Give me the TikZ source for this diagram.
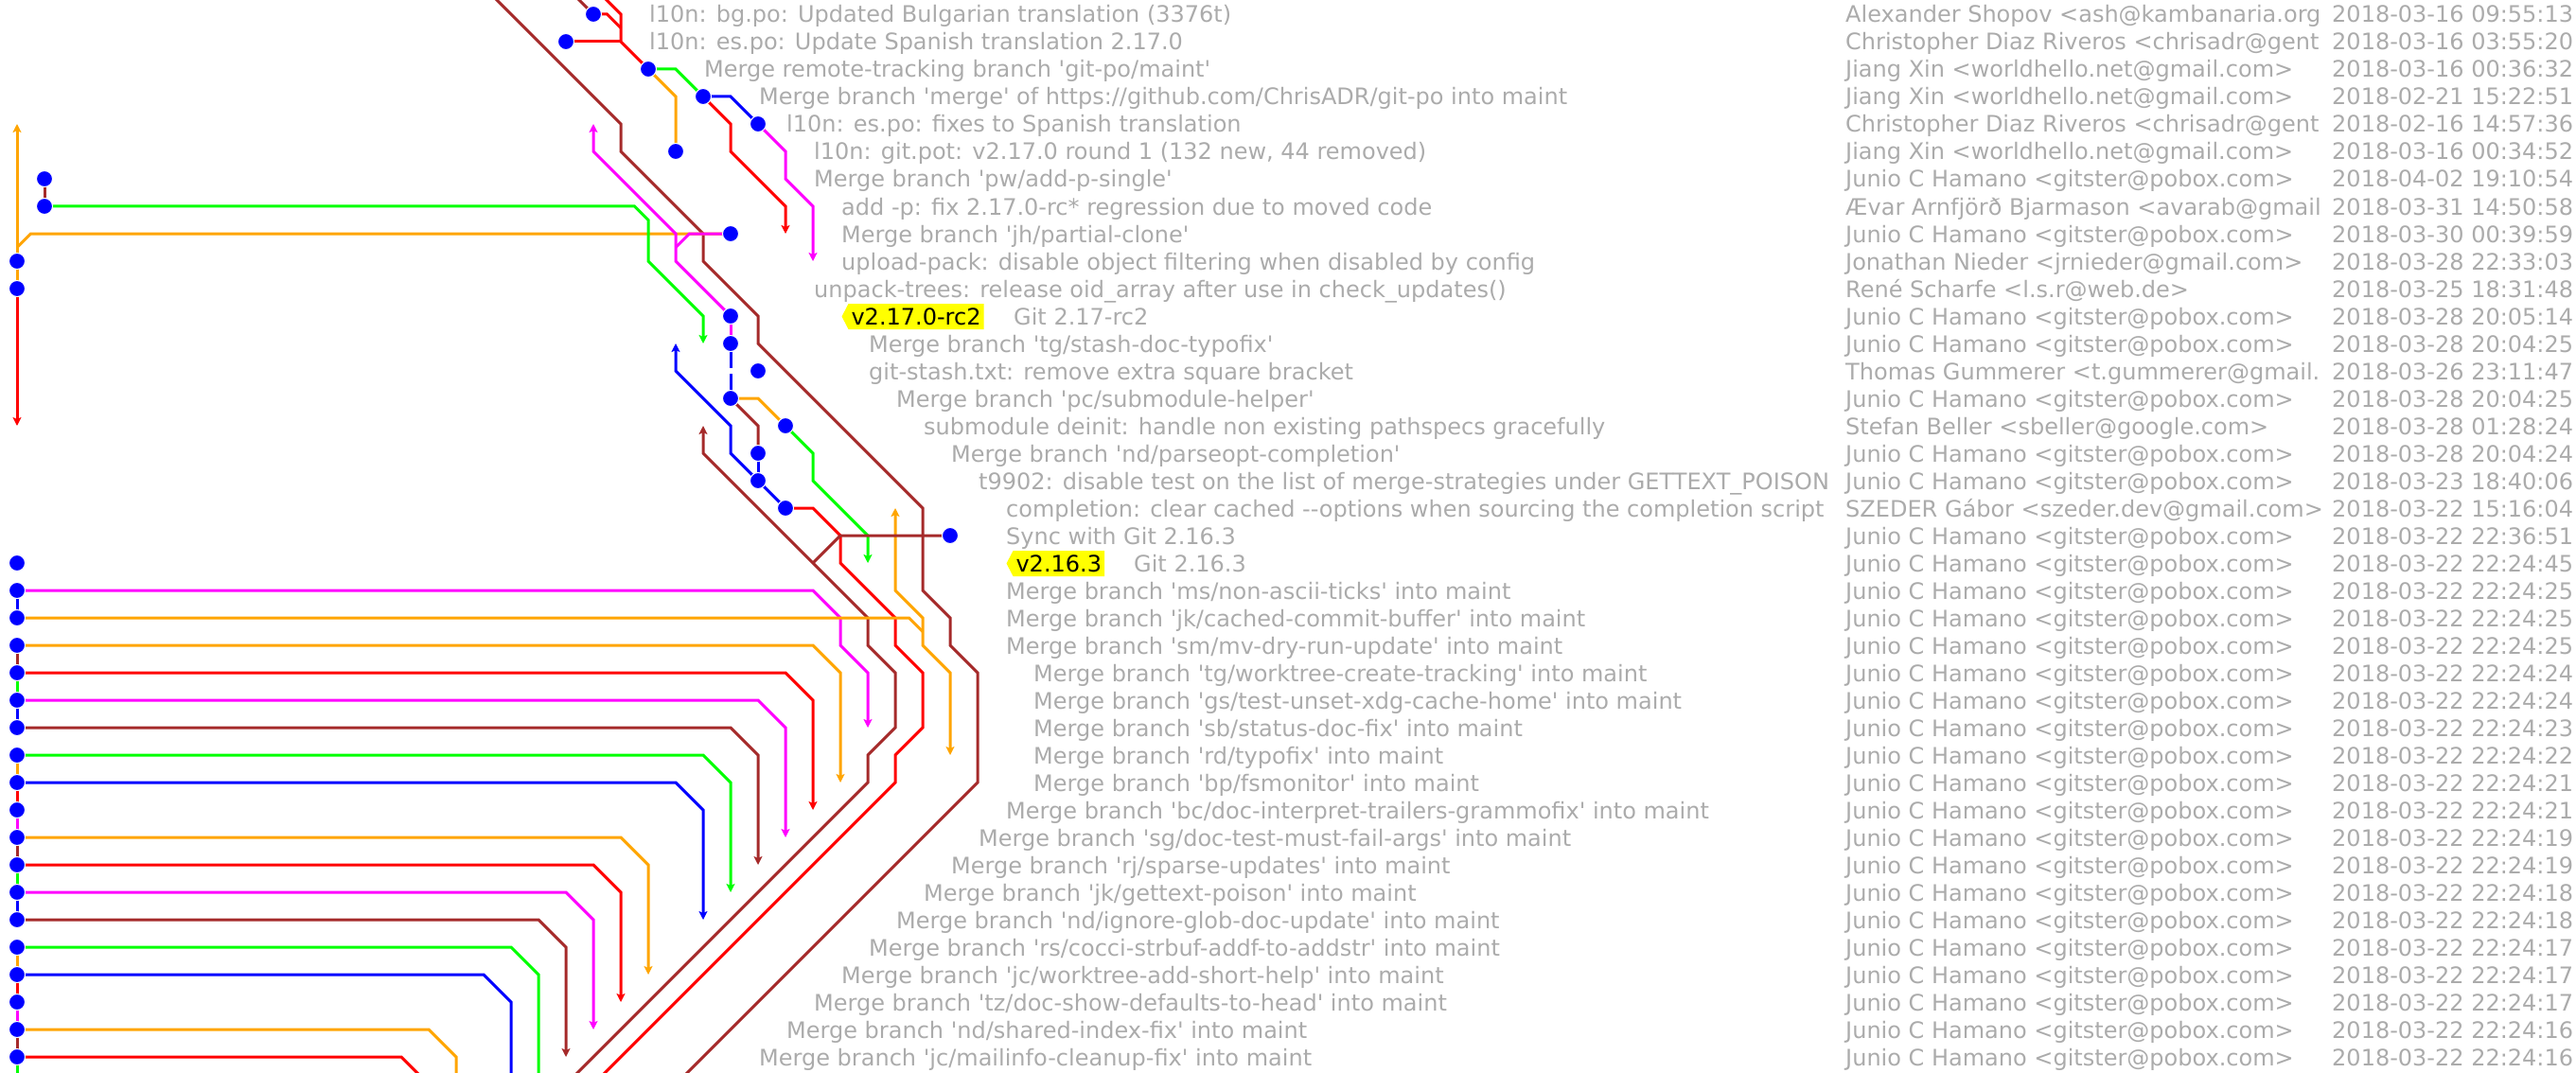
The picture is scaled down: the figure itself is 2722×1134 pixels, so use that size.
\documentclass[tikz,border=0pt]{standalone}
\usepackage{fontspec}
\newfontfamily\gitfont{DejaVu Sans}[Ligatures=TeXOff]
\usetikzlibrary{arrows.meta,shapes.symbols}
\pgfdeclarelayer{bg}
\pgfsetlayers{bg,main}
\definecolor{gbrown}{HTML}{A52A2A}
\definecolor{gorange}{HTML}{FFA500}
\definecolor{ggreen}{HTML}{00FF00}
\definecolor{gred}{HTML}{FF0000}
\definecolor{gblue}{HTML}{0000FF}
\definecolor{gmagenta}{HTML}{FF00FF}
\definecolor{gtext}{HTML}{ABABAB}
\definecolor{gtag}{HTML}{FFFF00}
\tikzset{
  gl/.style={line width=3pt},
  arr/.style={-{Stealth[length=9pt,width=9pt,inset=2pt]}},
  arrb/.style={{Stealth[length=9pt,width=9pt,inset=2pt]}-{Stealth[length=9pt,width=9pt,inset=2pt]}},
  commit/.style={circle, fill=gblue, draw=white, line width=1pt, minimum size=17pt, inner sep=0pt, outer sep=0pt},
  msg/.style={anchor=base west, inner sep=0pt, text=gtext, font=\gitfont\fontsize{24pt}{29pt}\selectfont},
  tagbox/.style={signal, signal to=west, signal pointer angle=125, fill=gtag, text=black, anchor=west,
     inner xsep=3pt, inner ysep=2.5pt, text height=19.5pt, text depth=2.5pt, outer sep=0pt,
     font=\gitfont\fontsize{24pt}{29pt}\selectfont}
}
\newcommand\gmsg[3]{\node[msg] (m#1) at (#2,{29*#1-5}) {#3};}
\newcommand\gauth[2]{\node[msg] (u#1) at (1950,{29*#1-5}) {#2};}
\newcommand\gdate[2]{\node[msg] (d#1) at (2464,{29*#1-5}) {#2};}
\begin{document}
\begin{tikzpicture}
\useasboundingbox (0,0) rectangle (2722pt,-1134pt);
\clip (0,0) rectangle (2722pt,-1134pt);
\begin{scope}[shift={(18pt,14pt)}, x=29pt, y=-29pt]
% commits
\node[commit] (c1) at (21,1) {};
\node[commit] (c2) at (20,2) {};
\node[commit] (c3) at (23,3) {};
\node[commit] (c4) at (25,4) {};
\node[commit] (c5) at (27,5) {};
\node[commit] (c6) at (24,6) {};
\node[commit] (c7) at (1,7) {};
\node[commit] (c8) at (1,8) {};
\node[commit] (c9) at (26,9) {};
\node[commit] (c10) at (0,10) {};
\node[commit] (c11) at (0,11) {};
\node[commit] (c12) at (26,12) {};
\node[commit] (c13) at (26,13) {};
\node[commit] (c14) at (27,14) {};
\node[commit] (c15) at (26,15) {};
\node[commit] (c16) at (28,16) {};
\node[commit] (c17) at (27,17) {};
\node[commit] (c18) at (27,18) {};
\node[commit] (c19) at (28,19) {};
\node[commit] (c20) at (34,20) {};
\foreach \r in {21,...,39} {\node[commit] (c\r) at (0,\r) {};}
% free ends
\coordinate (e1) at (17,0);
\coordinate (e2) at (23,41);
\coordinate (e3) at (20,0);
\coordinate (e4) at (21,0);
\coordinate (e5) at (20,41);
\coordinate (e6) at (19,41);
\coordinate (e7) at (19,41);
\coordinate (e8) at (18,41);
\coordinate (e9) at (16,41);
\coordinate (e10) at (15,41);
\coordinate (e11) at (0,41);
\coordinate (j1) at (22,1.5);
\coordinate (j2) at (22,2);
\coordinate (j3) at (0,9.5);
\coordinate (j4) at (24,9.5);
\coordinate (j5) at (29,21);
\coordinate (j6) at (33,23.5);
\coordinate (g1) at (26,13.9);
\coordinate (g2) at (26,14.1);
\coordinate (a1) at (28,9);
\coordinate (a2) at (29,10);
\coordinate (a3) at (21,5);
\coordinate (a4) at (0,5);
\coordinate (a5) at (0,16);
\coordinate (a6) at (25,13);
\coordinate (a7) at (24,13);
\coordinate (a8) at (31,21);
\coordinate (a9) at (25,16);
\coordinate (a10) at (32,19);
\coordinate (a11) at (34,28);
\coordinate (a12) at (31,27);
\coordinate (a13) at (30,29);
\coordinate (a14) at (29,30);
\coordinate (a15) at (28,31);
\coordinate (a16) at (27,32);
\coordinate (a17) at (26,33);
\coordinate (a18) at (25,34);
\coordinate (a19) at (23,36);
\coordinate (a20) at (22,37);
\coordinate (a21) at (21,38);
\coordinate (a22) at (20,39);
\begin{pgfonlayer}{bg}
% main brown
\draw[gl,gbrown] (e1) -- (22,5) -- (22,6) -- (25,9) -- (25,10) -- (27,12) -- (27,13) -- (33,19) -- (33,22) -- (34,23) -- (34,24) -- (35,25) -- (35,29) -- (34,30) -- (e2);
\draw[gl,gbrown] (e3) -- (c1);
\draw[gl,gred] (e4) -- (22,1) -- (22,2) -- (c3);
\draw[gl,gred] (c1) -- (21.5,1) -- (j1);
\draw[gl,gred] (c2) -- (j2);
\draw[gl,ggreen] (c3) -- (24,3) -- (c4);
\draw[gl,gorange] (c3) -- (24,4) -- (c6);
\draw[gl,gblue] (c4) -- (26,4) -- (c5);
\draw[gl,gred,arr] (c4) -- (26,5) -- (26,6) -- (28,8) -- (a1);
\draw[gl,gmagenta,arr] (c5) -- (28,6) -- (28,7) -- (29,8) -- (a2);
\draw[gl,gorange] (c9) -- (0.5,9) -- (j3);
\draw[gl,ggreen,arr] (c8) -- (22.5,8) -- (23,8.5) -- (23,10) -- (25,12) -- (a6);
\draw[gl,gmagenta,arr] (c12) -- (24,10) -- (24,9) -- (21,6) -- (a3);
\draw[gl,gmagenta] (c9) -- (24.5,9) -- (j4);
\draw[gl,gorange,arr] (c11) -- (a4);
\draw[gl,gred,arr] (c11) -- (a5);
\draw[gl,gbrown] (c7) -- (c8);
\draw[gl,gmagenta] (c12) -- (c13);
\draw[gl,gblue] (c13) -- (g1);
\draw[gl,gblue] (g2) -- (c15);
\draw[gl,gblue,arr] (c18) -- (26,17) -- (26,16) -- (24,14) -- (a7);
\draw[gl,gblue] (c17) -- (c18);
\draw[gl,gblue] (c18) -- (c19);
\draw[gl,gorange] (c15) -- (27,15) -- (c16);
\draw[gl,gbrown] (c15) -- (27,16) -- (c17);
\draw[gl,ggreen,arr] (c16) -- (29,17) -- (29,18) -- (31,20) -- (a8);
\draw[gl,gred] (c19) -- (29,19) -- (30,20) -- (30,21) -- (32,23) -- (32,24) -- (33,25) -- (33,27) -- (32,28) -- (32,29) -- (e5);
\draw[gl,gbrown,arr] (e6) -- (31,29) -- (31,28) -- (32,27) -- (32,25) -- (31,24) -- (31,23) -- (25,17) -- (a9);
\draw[gl,gorange,arrb] (a10) -- (32,22) -- (33,23) -- (33,24) -- (34,25) -- (a11);
\draw[gl,gbrown] (c20) -- (30,20) -- (j5);
\draw[gl,gmagenta,arr] (c22) -- (29,22) -- (30,23) -- (30,24) -- (31,25) -- (a12);
\draw[gl,gorange] (c23) -- (32.5,23) -- (j6);
\draw[gl,gorange,arr] (c24) -- (29,24) -- (30,25) -- (a13);
\draw[gl,gred,arr] (c25) -- (28,25) -- (29,26) -- (a14);
\draw[gl,gmagenta,arr] (c26) -- (27,26) -- (28,27) -- (a15);
\draw[gl,gbrown,arr] (c27) -- (26,27) -- (27,28) -- (a16);
\draw[gl,ggreen,arr] (c28) -- (25,28) -- (26,29) -- (a17);
\draw[gl,gblue,arr] (c29) -- (24,29) -- (25,30) -- (a18);
\draw[gl,gorange,arr] (c31) -- (22,31) -- (23,32) -- (a19);
\draw[gl,gred,arr] (c32) -- (21,32) -- (22,33) -- (a20);
\draw[gl,gmagenta,arr] (c33) -- (20,33) -- (21,34) -- (a21);
\draw[gl,gbrown,arr] (c34) -- (19,34) -- (20,35) -- (a22);
\draw[gl,ggreen] (c35) -- (18,35) -- (19,36) -- (e7);
\draw[gl,gblue] (c36) -- (17,36) -- (18,37) -- (e8);
\draw[gl,gorange] (c38) -- (15,38) -- (16,39) -- (e9);
\draw[gl,gred] (c39) -- (14,39) -- (15,40) -- (e10);
% lane 0 links
\draw[gl,gblue] (c22) -- (c23);
\draw[gl,gbrown] (c24) -- (c25);
\draw[gl,ggreen] (c25) -- (c26);
\draw[gl,gblue] (c26) -- (c27);
\draw[gl,gorange] (c28) -- (c29);
\draw[gl,gred] (c29) -- (c30);
\draw[gl,gmagenta] (c30) -- (c31);
\draw[gl,gbrown] (c31) -- (c32);
\draw[gl,ggreen] (c32) -- (c33);
\draw[gl,gblue] (c33) -- (c34);
\draw[gl,gorange] (c35) -- (c36);
\draw[gl,gred] (c36) -- (c37);
\draw[gl,gmagenta] (c37) -- (c38);
\draw[gl,gbrown] (c38) -- (c39);
\draw[gl,ggreen] (c39) -- (e11);
\end{pgfonlayer}
\end{scope}
\begin{scope}[x=1pt,y=-1pt]
\node[tagbox] (tag1) at (889.5,334.5) {v2.17.0-rc2};
\node[tagbox] (tag2) at (1063.5,595.5) {v2.16.3};
\gmsg{1}{686}{l10n: bg.po: Updated Bulgarian translation (3376t)}
\gmsg{2}{686}{l10n: es.po: Update Spanish translation 2.17.0}
\gmsg{3}{744}{Merge remote-tracking branch 'git-po/maint'}
\gmsg{4}{802}{Merge branch 'merge' of https://github.com/ChrisADR/git-po into maint}
\gmsg{5}{831}{l10n: es.po: fixes to Spanish translation}
\gmsg{6}{860}{l10n: git.pot: v2.17.0 round 1 (132 new, 44 removed)}
\gmsg{7}{860}{Merge branch 'pw/add-p-single'}
\gmsg{8}{889}{add -p: fix 2.17.0-rc* regression due to moved code}
\gmsg{9}{889}{Merge branch 'jh/partial-clone'}
\gmsg{10}{889}{upload-pack: disable object filtering when disabled by config}
\gmsg{11}{860}{unpack-trees: release oid\_array after use in check\_updates()}
\gmsg{12}{1071}{Git 2.17-rc2}
\gmsg{13}{918}{Merge branch 'tg/stash-doc-typofix'}
\gmsg{14}{918}{git-stash.txt: remove extra square bracket}
\gmsg{15}{947}{Merge branch 'pc/submodule-helper'}
\gmsg{16}{976}{submodule deinit: handle non existing pathspecs gracefully}
\gmsg{17}{1005}{Merge branch 'nd/parseopt-completion'}
\gmsg{18}{1034}{t9902: disable test on the list of merge-strategies under GETTEXT\_POISON}
\gmsg{19}{1063}{completion: clear cached --options when sourcing the completion script}
\gmsg{20}{1063}{Sync with Git 2.16.3}
\gmsg{21}{1198}{Git 2.16.3}
\gmsg{22}{1063}{Merge branch 'ms/non-ascii-ticks' into maint}
\gmsg{23}{1063}{Merge branch 'jk/cached-commit-buffer' into maint}
\gmsg{24}{1063}{Merge branch 'sm/mv-dry-run-update' into maint}
\gmsg{25}{1092}{Merge branch 'tg/worktree-create-tracking' into maint}
\gmsg{26}{1092}{Merge branch 'gs/test-unset-xdg-cache-home' into maint}
\gmsg{27}{1092}{Merge branch 'sb/status-doc-fix' into maint}
\gmsg{28}{1092}{Merge branch 'rd/typofix' into maint}
\gmsg{29}{1092}{Merge branch 'bp/fsmonitor' into maint}
\gmsg{30}{1063}{Merge branch 'bc/doc-interpret-trailers-grammofix' into maint}
\gmsg{31}{1034}{Merge branch 'sg/doc-test-must-fail-args' into maint}
\gmsg{32}{1005}{Merge branch 'rj/sparse-updates' into maint}
\gmsg{33}{976}{Merge branch 'jk/gettext-poison' into maint}
\gmsg{34}{947}{Merge branch 'nd/ignore-glob-doc-update' into maint}
\gmsg{35}{918}{Merge branch 'rs/cocci-strbuf-addf-to-addstr' into maint}
\gmsg{36}{889}{Merge branch 'jc/worktree-add-short-help' into maint}
\gmsg{37}{860}{Merge branch 'tz/doc-show-defaults-to-head' into maint}
\gmsg{38}{831}{Merge branch 'nd/shared-index-fix' into maint}
\gmsg{39}{802}{Merge branch 'jc/mailinfo-cleanup-fix' into maint}
\begin{scope}
\clip (1940,0) rectangle (2457,1134);
\gauth{1}{Alexander Shopov <ash@kambanaria.org}
\gauth{2}{Christopher Diaz Riveros <chrisadr@gent}
\gauth{3}{Jiang Xin <worldhello.net@gmail.com>}
\gauth{4}{Jiang Xin <worldhello.net@gmail.com>}
\gauth{5}{Christopher Diaz Riveros <chrisadr@gent}
\gauth{6}{Jiang Xin <worldhello.net@gmail.com>}
\gauth{7}{Junio C Hamano <gitster@pobox.com>}
\gauth{8}{Ævar Arnfjörð Bjarmason <avarab@gmail}
\gauth{9}{Junio C Hamano <gitster@pobox.com>}
\gauth{10}{Jonathan Nieder <jrnieder@gmail.com>}
\gauth{11}{René Scharfe <l.s.r@web.de>}
\gauth{12}{Junio C Hamano <gitster@pobox.com>}
\gauth{13}{Junio C Hamano <gitster@pobox.com>}
\gauth{14}{Thomas Gummerer <t.gummerer@gmail.}
\gauth{15}{Junio C Hamano <gitster@pobox.com>}
\gauth{16}{Stefan Beller <sbeller@google.com>}
\gauth{17}{Junio C Hamano <gitster@pobox.com>}
\gauth{18}{Junio C Hamano <gitster@pobox.com>}
\gauth{19}{SZEDER Gábor <szeder.dev@gmail.com>}
\foreach \r in {20,...,39} {\gauth{\r}{Junio C Hamano <gitster@pobox.com>}}
\end{scope}
\gdate{1}{2018-03-16 09:55:13}
\gdate{2}{2018-03-16 03:55:20}
\gdate{3}{2018-03-16 00:36:32}
\gdate{4}{2018-02-21 15:22:51}
\gdate{5}{2018-02-16 14:57:36}
\gdate{6}{2018-03-16 00:34:52}
\gdate{7}{2018-04-02 19:10:54}
\gdate{8}{2018-03-31 14:50:58}
\gdate{9}{2018-03-30 00:39:59}
\gdate{10}{2018-03-28 22:33:03}
\gdate{11}{2018-03-25 18:31:48}
\gdate{12}{2018-03-28 20:05:14}
\gdate{13}{2018-03-28 20:04:25}
\gdate{14}{2018-03-26 23:11:47}
\gdate{15}{2018-03-28 20:04:25}
\gdate{16}{2018-03-28 01:28:24}
\gdate{17}{2018-03-28 20:04:24}
\gdate{18}{2018-03-23 18:40:06}
\gdate{19}{2018-03-22 15:16:04}
\gdate{20}{2018-03-22 22:36:51}
\gdate{21}{2018-03-22 22:24:45}
\gdate{22}{2018-03-22 22:24:25}
\gdate{23}{2018-03-22 22:24:25}
\gdate{24}{2018-03-22 22:24:25}
\gdate{25}{2018-03-22 22:24:24}
\gdate{26}{2018-03-22 22:24:24}
\gdate{27}{2018-03-22 22:24:23}
\gdate{28}{2018-03-22 22:24:22}
\gdate{29}{2018-03-22 22:24:21}
\gdate{30}{2018-03-22 22:24:21}
\gdate{31}{2018-03-22 22:24:19}
\gdate{32}{2018-03-22 22:24:19}
\gdate{33}{2018-03-22 22:24:18}
\gdate{34}{2018-03-22 22:24:18}
\gdate{35}{2018-03-22 22:24:17}
\gdate{36}{2018-03-22 22:24:17}
\gdate{37}{2018-03-22 22:24:17}
\gdate{38}{2018-03-22 22:24:16}
\gdate{39}{2018-03-22 22:24:16}
\end{scope}
\end{tikzpicture}
\end{document}
